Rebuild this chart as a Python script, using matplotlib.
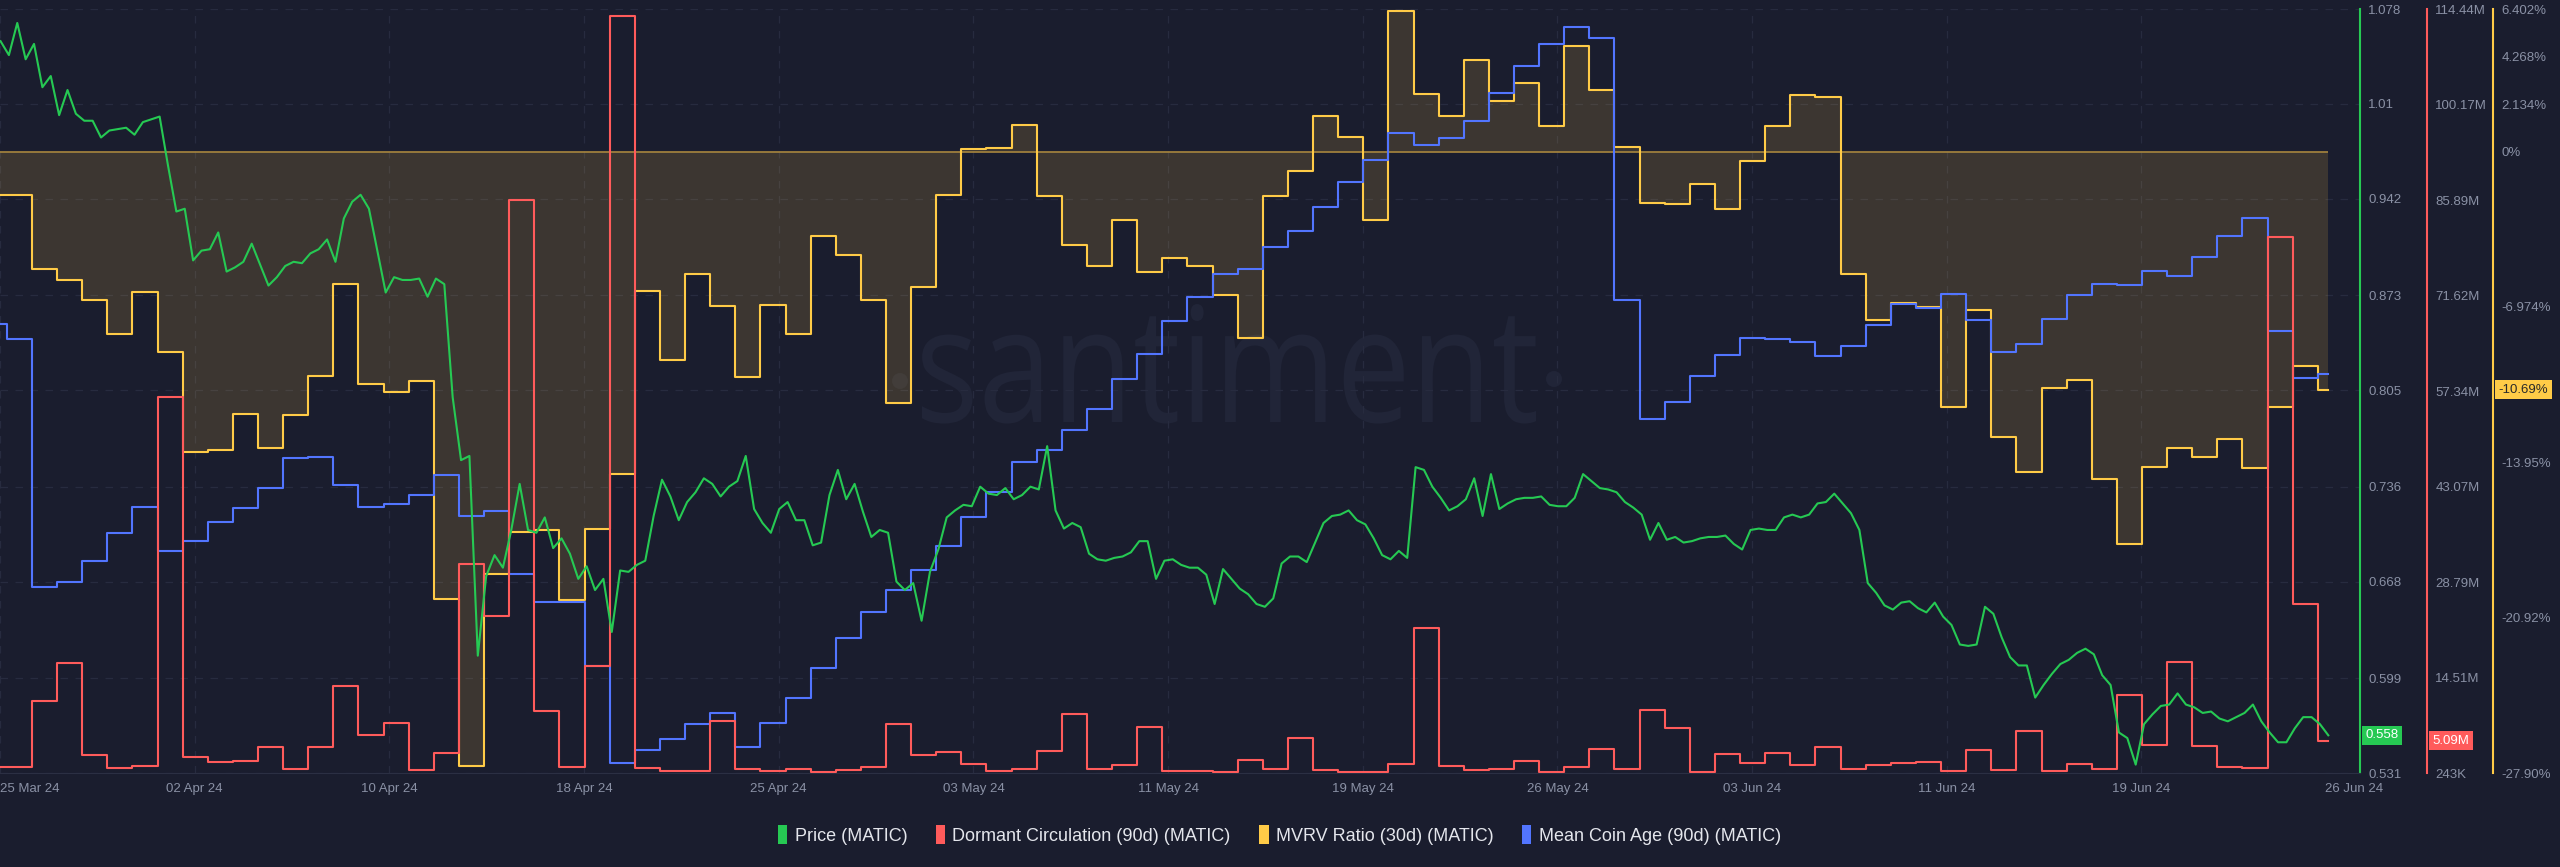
import numpy as np
import pandas as pd
import matplotlib
matplotlib.use('Agg')
import matplotlib.pyplot as plt
import matplotlib.dates as mdates
import matplotlib.transforms as mtransforms
from matplotlib.patches import Patch, PathPatch, Circle
from matplotlib.textpath import TextPath
from matplotlib.font_manager import FontProperties

plt.rcParams['font.family'] = ['Liberation Sans', 'DejaVu Sans']

# daily metrics, 24 Mar 24 .. 25 Jun 24
mvrv = [-1.96, -1.96, -5.26, -5.77, -6.66, -8.19, -6.32, -9.00, -13.48, -13.42,
        -11.79, -13.30, -11.83, -10.07, -5.93, -10.44, -10.78, -10.32, -20.10, -27.59,
        -18.95, -17.08, -17.01, -20.13, -16.94, -14.49, -6.25, -9.34, -5.49, -6.93,
        -10.14, -6.87, -8.19, -3.80, -4.64, -6.66, -11.28, -6.09, -1.94, 0.12,
        0.14, 1.20, -1.99, -4.19, -5.12, -3.09, -5.40, -4.78, -5.12, -6.43,
        -8.38, -2.01, -0.89, 1.61, 0.67, -3.09, 6.30, 2.59, 1.61, 4.13,
        2.25, 3.10, 1.15, 4.72, 2.75, 0.21, -2.31, -2.35, -1.44, -2.58,
        -0.41, 1.15, 2.52, 2.46, -5.51, -7.57, -6.82, -7.00, -11.47, -7.12,
        -12.82, -14.38, -10.62, -10.25, -14.72, -17.63, -14.15, -13.30, -13.69, -12.91,
        -14.22, -11.47, -9.61, -10.69]

dormant = [1.21, 1.21, 10.97, 16.69, 2.96, 1.06, 1.29, 56.48, 2.58, 1.82,
           1.97, 4.11, 0.83, 4.11, 13.25, 5.86, 7.77, 0.68, 3.19, 31.55,
           23.78, 85.90, 9.44, 1.21, 16.30, 113.35, 1.06, 0.53, 0.53, 8.07,
           0.83, 0.53, 0.91, 0.37, 0.68, 1.21, 7.54, 2.96, 3.35, 1.59,
           0.53, 0.83, 3.50, 9.06, 0.83, 1.44, 7.16, 0.53, 0.53, 0.45,
           2.20, 0.91, 5.40, 0.68, 0.45, 0.37, 1.59, 21.87, 1.29, 0.68,
           0.91, 2.05, 0.45, 1.21, 3.88, 0.91, 9.60, 7.00, 0.45, 3.12,
           1.67, 3.19, 1.44, 4.11, 0.83, 1.44, 1.67, 1.82, 0.60, 3.73,
           0.68, 6.55, 0.53, 1.59, 0.83, 11.88, 4.49, 16.84, 4.34, 1.14,
           1.06, 80.34, 25.45, 5.09]

coin_age = [37.62, 37.04, 27.32, 27.50, 28.32, 29.43, 30.45, 28.72, 29.12, 29.85,
            30.39, 31.19, 32.35, 32.39, 31.29, 30.45, 30.57, 30.93, 31.69, 30.09,
            30.27, 27.80, 26.70, 26.72, 24.22, 20.40, 20.92, 21.32, 21.92, 22.36,
            21.02, 21.98, 22.96, 24.12, 25.32, 26.32, 27.20, 27.96, 28.93, 30.07,
            31.03, 32.23, 32.67, 33.47, 34.29, 35.47, 36.44, 37.74, 38.70, 39.60,
            39.78, 40.66, 41.28, 42.24, 43.20, 44.08, 45.15, 44.65, 44.95, 45.59,
            46.71, 47.75, 48.61, 49.31, 48.85, 38.56, 33.89, 34.57, 35.60, 36.40,
            37.08, 37.04, 36.94, 36.38, 36.78, 37.58, 38.42, 38.26, 38.82, 37.78,
            36.54, 36.84, 37.84, 38.78, 39.20, 39.16, 39.70, 39.52, 40.28, 41.08,
            41.78, 37.34, 35.51, 35.65]

# price every 8h from 24 Mar 18:00
price = [1.055, 1.045, 1.068, 1.042, 1.053, 1.022, 1.030, 1.002, 1.020, 1.003,
         0.998, 0.998, 0.986, 0.991, 0.992, 0.993, 0.988, 0.997, 0.999, 1.001,
         0.966, 0.933, 0.935, 0.898, 0.905, 0.906, 0.918, 0.890, 0.893, 0.897,
         0.910, 0.895, 0.880, 0.886, 0.894, 0.897, 0.896, 0.903, 0.906, 0.913,
         0.897, 0.928, 0.940, 0.945, 0.935, 0.905, 0.875, 0.886, 0.884, 0.884,
         0.885, 0.872, 0.885, 0.881, 0.800, 0.755, 0.758, 0.615, 0.672, 0.687,
         0.678, 0.705, 0.738, 0.705, 0.703, 0.714, 0.692, 0.699, 0.688, 0.670,
         0.679, 0.662, 0.670, 0.632, 0.676, 0.675, 0.680, 0.683, 0.715, 0.741,
         0.729, 0.712, 0.725, 0.732, 0.742, 0.738, 0.729, 0.736, 0.740, 0.758,
         0.720, 0.710, 0.703, 0.720, 0.725, 0.712, 0.712, 0.694, 0.696, 0.730,
         0.748, 0.727, 0.738, 0.718, 0.700, 0.705, 0.703, 0.668, 0.662, 0.667,
         0.640, 0.675, 0.691, 0.714, 0.719, 0.723, 0.722, 0.736, 0.731, 0.730,
         0.735, 0.727, 0.730, 0.736, 0.734, 0.765, 0.719, 0.706, 0.710, 0.707,
         0.688, 0.684, 0.683, 0.685, 0.686, 0.689, 0.697, 0.697, 0.670, 0.683,
         0.684, 0.680, 0.678, 0.678, 0.673, 0.652, 0.677, 0.670, 0.663, 0.659,
         0.652, 0.650, 0.656, 0.681, 0.686, 0.686, 0.682, 0.696, 0.710, 0.715,
         0.716, 0.719, 0.712, 0.709, 0.699, 0.687, 0.684, 0.690, 0.685, 0.750,
         0.748, 0.736, 0.728, 0.719, 0.722, 0.727, 0.742, 0.715, 0.745, 0.720,
         0.724, 0.727, 0.728, 0.728, 0.729, 0.723, 0.722, 0.722, 0.728, 0.745,
         0.740, 0.735, 0.734, 0.732, 0.725, 0.721, 0.716, 0.698, 0.710, 0.698,
         0.700, 0.696, 0.697, 0.699, 0.700, 0.700, 0.701, 0.695, 0.691, 0.705,
         0.706, 0.705, 0.705, 0.714, 0.716, 0.714, 0.716, 0.724, 0.725, 0.731,
         0.724, 0.717, 0.705, 0.667, 0.660, 0.651, 0.648, 0.653, 0.654, 0.649,
         0.646, 0.653, 0.643, 0.637, 0.623, 0.622, 0.623, 0.650, 0.645, 0.628,
         0.614, 0.608, 0.608, 0.585, 0.594, 0.602, 0.609, 0.612, 0.617, 0.620,
         0.616, 0.601, 0.594, 0.560, 0.556, 0.537, 0.566, 0.573, 0.579, 0.580,
         0.588, 0.580, 0.578, 0.574, 0.575, 0.570, 0.568, 0.571, 0.574, 0.580,
         0.568, 0.560, 0.553, 0.553, 0.563, 0.571, 0.571, 0.566, 0.558]

date_labels = ['25 Mar 24', '02 Apr 24', '10 Apr 24', '18 Apr 24', '25 Apr 24', '03 May 24',
               '11 May 24', '19 May 24', '26 May 24', '03 Jun 24', '11 Jun 24', '19 Jun 24',
               '26 Jun 24']

price_ticks = [0.531, 0.599, 0.668, 0.736, 0.805, 0.873, 0.942, 1.01, 1.078]
dormant_ticks = [0.243, 14.51, 28.79, 43.07, 57.34, 71.62, 85.89, 100.17, 114.44]
dormant_tick_labels = ['243K', '14.51M', '28.79M', '43.07M', '57.34M', '71.62M',
                       '85.89M', '100.17M', '114.44M']
mvrv_ticks = [-27.90, -20.92, -13.95, -6.974, 0, 2.134, 4.268, 6.402]
mvrv_tick_labels = ['-27.90%', '-20.92%', '-13.95%', '-6.974%', '0%', '2.134%',
                    '4.268%', '6.402%']

BG = '#1a1d2e'
GREEN = '#26c953'
RED = '#ff5b5b'
YELLOW = '#ffcb47'
BLUE = '#5275ff'
TICK = '#8a91a5'
GRID = '#272b3f'
MARK = '#212538'

day_idx = pd.date_range('2024-03-24', periods=len(mvrv), freq='D')
price_idx = pd.date_range('2024-03-24 18:00', periods=len(price), freq='8h')
step_x = mdates.date2num(list(day_idx) + [price_idx[-1]])
price_x = mdates.date2num(price_idx)


def stepped(vals):
    return np.append(vals, vals[-1])


x0 = mdates.date2num(pd.Timestamp('2024-03-24 17:30'))
x1 = x0 + 93.95

W, H = 2560, 867
fig = plt.figure(figsize=(W / 100, H / 100), dpi=100)
fig.patch.set_facecolor(BG)
ax = fig.add_axes([0, 1 - 773 / H, 2360 / W, 764 / H])
ax.set_facecolor(BG)

ax_mv = ax.twinx()
ax_ca = ax.twinx()
ax_dc = ax.twinx()
ax_pr = ax.twinx()

for a in (ax, ax_mv, ax_ca, ax_dc, ax_pr):
    a.set_xlim(x0, x1)
    for s in a.spines.values():
        s.set_visible(False)

# main axis: price scale + grid
ax.set_ylim(0.531, 1.078)
ax.yaxis.tick_right()
ax.set_yticks(price_ticks)
ax.set_yticklabels([f'{t:g}' for t in price_ticks])
ax.spines['right'].set_visible(True)
ax.spines['right'].set_color(GREEN)
ax.spines['right'].set_linewidth(1.5)
ax.spines['bottom'].set_visible(True)
ax.spines['bottom'].set_color('#2b2f43')
ax.tick_params(axis='y', length=0, pad=6, colors=TICK, labelsize=9.5)

xticks = [x0 + 7.75 * k for k in range(12)] + [x0 + 93.7]
ax.set_xticks(xticks)
ax.set_xticklabels(date_labels)
ax.tick_params(axis='x', length=0, pad=7, colors=TICK, labelsize=9.5)
ax.get_xticklabels()[0].set_ha('left')
ax.grid(True, color=GRID, linestyle=(0, (6, 6)), linewidth=0.9)
ax.get_xgridlines()[-1].set_visible(False)

# watermark, drawn in figure pixels
px = mtransforms.Affine2D().scale(1 / W, 1 / H) + fig.transFigure
tp = TextPath((0, 0), 'santiment', size=100, prop=FontProperties(family='Open Sans'))
bb = tp.get_extents()
wm_tr = mtransforms.Affine2D().translate(-bb.x0, 0).scale(614 / bb.width, 118 / bb.y1) \
    .translate(922, H - 422)
ax.add_patch(PathPatch(wm_tr.transform_path(tp), transform=px, fc=MARK, ec='none', zorder=0.5))
ax.add_patch(Circle((900, H - 381), 8, transform=px, fc=MARK, ec='none', zorder=0.5))
ax.add_patch(Circle((1554, H - 379), 8, transform=px, fc=MARK, ec='none', zorder=0.5))

# MVRV
ax_mv.set_ylim(-27.90, 6.402)
ax_mv.fill_between(step_x, stepped(mvrv), 0, step='post', color=YELLOW, alpha=0.15, lw=0)
ax_mv.hlines(0, step_x[0], step_x[-1], color='#9e7f3d', lw=1.3)
ax_mv.plot(step_x, stepped(mvrv), drawstyle='steps-post', color=YELLOW, lw=1.5)
ax_mv.set_yticks(mvrv_ticks)
ax_mv.set_yticklabels(mvrv_tick_labels)
ax_mv.spines['right'].set_visible(True)
ax_mv.spines['right'].set_position(('axes', 1.0564))
ax_mv.spines['right'].set_color(YELLOW)
ax_mv.spines['right'].set_linewidth(1.5)
ax_mv.tick_params(axis='y', length=0, pad=6, colors=TICK, labelsize=9.5)

# mean coin age (no visible scale)
ax_ca.set_ylim(20, 50)
ax_ca.plot(step_x, stepped(coin_age), drawstyle='steps-post', color=BLUE, lw=1.5)
ax_ca.yaxis.set_visible(False)

# dormant circulation
ax_dc.set_ylim(0.243, 114.44)
ax_dc.plot(step_x, stepped(dormant), drawstyle='steps-post', color=RED, lw=1.5)
ax_dc.set_yticks(dormant_ticks)
ax_dc.set_yticklabels(dormant_tick_labels)
ax_dc.spines['right'].set_visible(True)
ax_dc.spines['right'].set_position(('axes', 1.0284))
ax_dc.spines['right'].set_color(RED)
ax_dc.spines['right'].set_linewidth(1.5)
ax_dc.tick_params(axis='y', length=0, pad=6, colors=TICK, labelsize=9.5)

# price line on top
ax_pr.set_ylim(0.531, 1.078)
ax_pr.plot(price_x, price, color=GREEN, lw=1.5)
ax_pr.yaxis.set_visible(False)

# last-value tags
ax.annotate(f'{price[-1]:.3f}', xy=(1, price[-1]), xycoords=ax.get_yaxis_transform(),
            xytext=(4, 0), textcoords='offset points', ha='left', va='center',
            fontsize=9.5, color='white',
            bbox=dict(boxstyle='square,pad=0.25', fc=GREEN, ec='none'), annotation_clip=False)
ax_dc.annotate(f'{dormant[-1]:.2f}M', xy=(1.0284, dormant[-1]), xycoords=ax_dc.get_yaxis_transform(),
               xytext=(4, 0), textcoords='offset points', ha='left', va='center',
               fontsize=9.5, color='white',
               bbox=dict(boxstyle='square,pad=0.25', fc=RED, ec='none'), annotation_clip=False)
ax_mv.annotate(f'{mvrv[-1]:.2f}%', xy=(1.0564, mvrv[-1]), xycoords=ax_mv.get_yaxis_transform(),
               xytext=(4, 0), textcoords='offset points', ha='left', va='center',
               fontsize=9.5, color='#2a2a2a',
               bbox=dict(boxstyle='square,pad=0.25', fc=YELLOW, ec='none'), annotation_clip=False)

handles = [Patch(facecolor=c, edgecolor='none') for c in (GREEN, RED, YELLOW, BLUE)]
labels = ['Price (MATIC)', 'Dormant Circulation (90d) (MATIC)', 'MVRV Ratio (30d) (MATIC)',
          'Mean Coin Age (90d) (MATIC)']
fig.legend(handles, labels, loc='center', bbox_to_anchor=(0.4998, 1 - 835 / H), ncol=4,
           frameon=False, handlelength=0.5, handleheight=1.2, handletextpad=0.4,
           columnspacing=1.6, fontsize=13, labelcolor='#e4e6ec')

fig.savefig('out.png', dpi=100, facecolor=BG)
